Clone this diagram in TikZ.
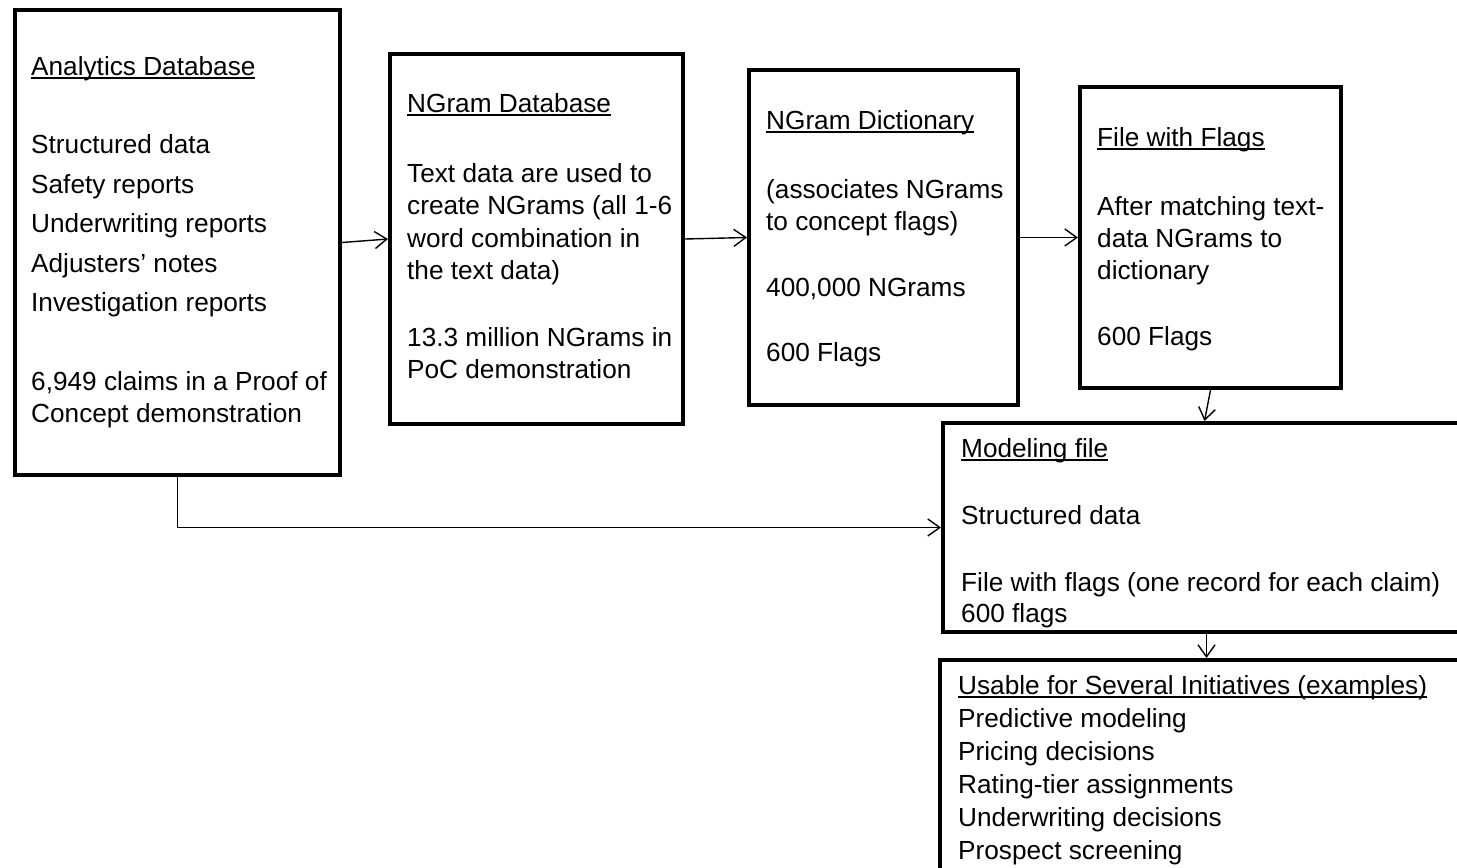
\documentclass[tikz,border=0pt]{standalone}
\usepackage{fontspec}
\setmainfont{Liberation Sans}
\usetikzlibrary{arrows.meta}
% underline drawn close to the baseline, crossing the descenders
\newcommand\ulin[1]{\setbox0=\hbox{#1}\rlap{\rule[-3.5bp]{\wd0}{1.6bp}}\box0}
\begin{document}
\begin{tikzpicture}[x=1bp,y=-1bp,
  box/.style={draw=black,line width=4bp,inner sep=0pt,fill=white},
  txt/.style={anchor=base west,inner sep=0pt,font=\fontsize{26.2bp}{33bp}\selectfont},
  link/.style={draw=black,line width=1.4bp,-{Straight Barb[length=12bp,width=17bp,line width=1.4bp]}}]
\clip (0,0) rectangle (1457,867);
\fill[white] (0,0) rectangle (1457,867);

% boxes
\node[box,minimum width=325bp,minimum height=465bp] (b1) at (177.5,242.5) {};
\node[box,minimum width=293bp,minimum height=370bp] (b2) at (536.5,239) {};
\node[box,minimum width=269bp,minimum height=335bp] (b3) at (883.5,237.5) {};
\node[box,minimum width=261bp,minimum height=301bp] (b4) at (1210.5,237.5) {};
\node[box,minimum width=527bp,minimum height=209bp] (b5) at (1206.5,527.5) {};
\node[box,minimum width=532bp,minimum height=240bp] (b6) at (1206,780) {};

\begin{scope}[yshift=-2bp]
% Analytics Database
\node[txt] (t11) at (31,73) {\ulin{Analytics Database}};
\node[txt] (t12) at (31,151) {Structured data};
\node[txt] (t13) at (31,191) {Safety reports};
\node[txt] (t14) at (31,230) {Underwriting reports};
\node[txt] (t15) at (31,270) {Adjusters’ notes};
\node[txt] (t16) at (31,309) {Investigation reports};
\node[txt] (t17) at (31,388) {6,949 claims in a Proof of};
\node[txt] (t18) at (31,420) {Concept demonstration};

% NGram Database
\node[txt] (t21) at (407,110) {\ulin{NGram Database}};
\node[txt] (t22) at (407,180) {Text data are used to};
\node[txt] (t23) at (407,212) {create NGrams (all 1-6};
\node[txt] (t24) at (407,245) {word combination in};
\node[txt] (t25) at (407,277) {the text data)};
\node[txt] (t26) at (407,344) {13.3 million NGrams in};
\node[txt] (t27) at (407,376) {PoC demonstration};

% NGram Dictionary
\node[txt] (t31) at (766,127) {\ulin{NGram Dictionary}};
\node[txt] (t32) at (766,196) {(associates NGrams};
\node[txt] (t33) at (766,228) {to concept flags)};
\node[txt] (t34) at (766,294) {400,000 NGrams};
\node[txt] (t35) at (766,359) {600 Flags};

% File with Flags
\node[txt] (t41) at (1097,144) {\ulin{File with Flags}};
\node[txt] (t42) at (1097,213) {After matching text-};
\node[txt] (t43) at (1097,245) {data NGrams to};
\node[txt] (t44) at (1097,277) {dictionary};
\node[txt] (t45) at (1097,343) {600 Flags};

% Modeling file
\node[txt] (t51) at (961,455) {\ulin{Modeling file}};
\node[txt] (t52) at (961,522) {Structured data};
\node[txt] (t53) at (961,589) {File with flags (one record for each claim)};
\node[txt] (t54) at (961,620) {600 flags};

% Usable for Several Initiatives
\node[txt] (t61) at (958,692) {\ulin{Usable for Several Initiatives (examples)}};
\node[txt] (t62) at (958,725) {Predictive modeling};
\node[txt] (t63) at (958,758) {Pricing decisions};
\node[txt] (t64) at (958,791) {Rating-tier assignments};
\node[txt] (t65) at (958,824) {Underwriting decisions};
\node[txt] (t66) at (958,857) {Prospect screening};
\end{scope}

% connectors
\draw[link] (b1.east) -- (b2.west);
\draw[link] (b2.east) -- (b3.west);
\draw[link] (b3.east) -- (b4.west);
\draw[link] (b4.south) -- ([xshift=-6bp]b4.south |- b5.north);
\draw[link] (b5.south) -- (b5.south |- b6.north);
\draw[link] (b1.south) |- (b5.west);
\end{tikzpicture}
\end{document}
